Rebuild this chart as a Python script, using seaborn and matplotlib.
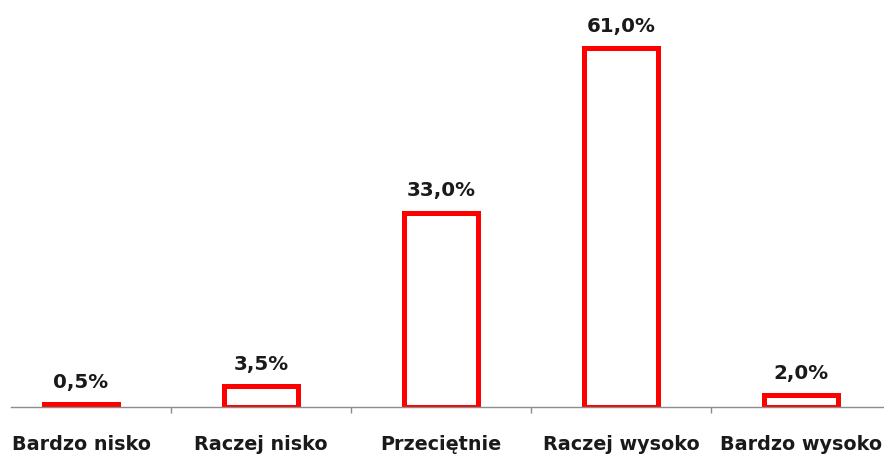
import matplotlib
matplotlib.use("Agg")
import matplotlib.pyplot as plt
import seaborn as sns
import pandas as pd

categories = ["Bardzo nisko", "Raczej nisko", "Przeciętnie", "Raczej wysoko", "Bardzo wysoko"]
values = [0.5, 3.5, 33.0, 61.0, 2.0]
value_labels = ["0,5%", "3,5%", "33,0%", "61,0%", "2,0%"]

sns.set_theme(style="white")
plt.rcParams['font.family'] = ['DejaVu Sans']

df = pd.DataFrame({"cat": categories, "val": values})

fig = plt.figure(figsize=(8.84, 4.55), dpi=100)
ax = fig.add_axes([11/884, (455-407)/455, (884-11)/884, 407/455])

sns.barplot(data=df, x="cat", y="val", ax=ax, color="white", edgecolor="#ff0000",
            linewidth=3.6, width=0.41, saturation=1)

ax.set_xlim(-0.389, 4.461)
ax.set_ylim(0, 69.2)
ax.set_xlabel("")
ax.set_ylabel("")
ax.set_yticks([])
for s in ["top", "right", "left"]:
    ax.spines[s].set_visible(False)
ax.spines["bottom"].set_color("#8c8c8c")
ax.spines["bottom"].set_linewidth(1.0)

ax.set_xticks([0.5, 1.5, 2.5, 3.5])
ax.set_xticklabels([])
ax.tick_params(axis="x", which="major", direction="out", length=4, color="#8c8c8c", width=1, bottom=True)
ax.set_xticks(range(len(categories)), minor=True)
ax.set_xticklabels(categories, minor=True, fontsize=13.8, fontweight="bold", color="#1a1a1a")
ax.tick_params(axis="x", which="minor", length=0, pad=20)

for i, (v, lab) in enumerate(zip(values, value_labels)):
    ax.annotate(lab, (i, v), xytext=(0, 9), textcoords="offset points",
                ha="center", va="bottom", fontsize=14.3, fontweight="bold", color="#1a1a1a")

fig.savefig("out.png", dpi=100, facecolor="white")
